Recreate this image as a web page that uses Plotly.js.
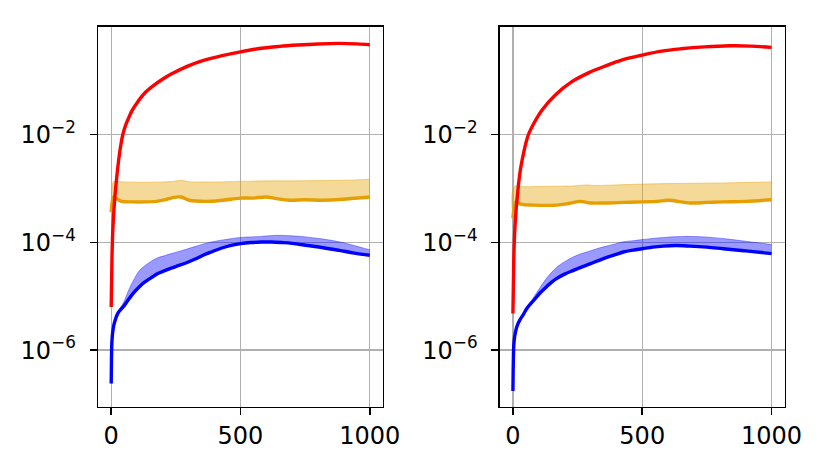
<!DOCTYPE html>
<html>
<head>
<meta charset="utf-8">
<script src="https://cdn.plot.ly/plotly-3.0.1.min.js"></script>
<style>html,body{margin:0;padding:0;background:#fff;}#chart{width:830px;height:471px;}</style>
</head>
<body>
<div id="chart"></div>
<script>
// ---------- Left panel data ----------
const L_redX = [0, 3, 6, 10, 14, 19, 25, 32, 38, 45, 54, 64, 80, 103, 130, 167, 200, 232, 296, 360, 425, 500, 579, 650, 720, 800, 880, 950, 1000];
const L_redY = [6.31e-6, 5.01e-5, 1.585e-4, 3.55e-4, 6.76e-4, 1.23e-3, 2.34e-3, 4.37e-3, 6.76e-3, 0.0100, 0.0141, 0.0186, 0.0275, 0.0407, 0.0589, 0.0832, 0.107, 0.132, 0.186, 0.240, 0.288, 0.342, 0.398, 0.432, 0.457, 0.479, 0.490, 0.481, 0.462];

const L_orgX = [0, 4, 9, 20, 40, 83, 130, 174, 210, 238, 270, 302, 367, 430, 500, 550, 599, 640, 689, 750, 818, 900, 1000];
const L_orgY = [3.63e-4, 5.62e-4, 6.92e-4, 6.46e-4, 5.75e-4, 5.62e-4, 5.62e-4, 5.75e-4, 6.17e-4, 6.76e-4, 6.92e-4, 6.03e-4, 5.75e-4, 6.03e-4, 6.61e-4, 6.61e-4, 6.92e-4, 6.46e-4, 6.03e-4, 6.17e-4, 6.03e-4, 6.31e-4, 6.92e-4];
const L_orgUpX = [0, 4, 8, 50, 100, 150, 200, 240, 270, 300, 400, 500, 550, 600, 700, 800, 900, 1000];
const L_orgUpY = [3.63e-4, 1.12e-3, 1.318e-3, 1.318e-3, 1.303e-3, 1.303e-3, 1.318e-3, 1.349e-3, 1.413e-3, 1.334e-3, 1.318e-3, 1.349e-3, 1.365e-3, 1.380e-3, 1.380e-3, 1.396e-3, 1.413e-3, 1.479e-3];

const L_bluX = [0, 1, 2.4, 5, 10, 17, 25.5, 38, 51, 70, 90, 110, 129, 155, 180, 205, 232, 265, 296, 330, 360, 392, 425, 460, 500, 540, 580, 620, 660, 700, 760, 820, 882, 940, 1000];
const L_bluY = [2.40e-7, 6.31e-7, 1.32e-6, 2.0e-6, 2.88e-6, 3.80e-6, 4.79e-6, 5.75e-6, 6.76e-6, 9.12e-6, 1.202e-5, 1.514e-5, 1.82e-5, 2.21e-5, 2.63e-5, 2.95e-5, 3.31e-5, 3.76e-5, 4.27e-5, 5.01e-5, 5.89e-5, 6.76e-5, 7.76e-5, 8.71e-5, 9.44e-5, 9.89e-5, 1.012e-4, 1.012e-4, 9.89e-5, 9.55e-5, 8.71e-5, 7.94e-5, 7.08e-5, 6.31e-5, 5.75e-5];
const L_bluUpX = [0, 10, 25.5, 38, 51, 70, 90, 110, 129, 155, 180, 205, 232, 265, 296, 330, 360, 392, 425, 460, 500, 580, 637, 700, 753, 820, 882, 940, 1000];
const L_bluUpY = [2.40e-7, 2.88e-6, 4.79e-6, 6.31e-6, 8.32e-6, 1.38e-5, 2.14e-5, 3.02e-5, 3.63e-5, 4.47e-5, 5.19e-5, 5.62e-5, 6.17e-5, 6.84e-5, 7.59e-5, 8.51e-5, 9.44e-5, 1.023e-4, 1.096e-4, 1.161e-4, 1.23e-4, 1.288e-4, 1.349e-4, 1.318e-4, 1.259e-4, 1.148e-4, 1.023e-4, 8.71e-5, 7.24e-5];

// ---------- Right panel data ----------
const R_redX = [0, 3, 6, 10, 14, 18, 22, 30, 41, 50, 60, 80, 112, 163, 228, 292, 356, 420, 500, 575, 650, 740, 838, 920, 1000];
const R_redY = [4.79e-6, 3.98e-5, 1.26e-4, 2.82e-4, 5.01e-4, 7.94e-4, 1.23e-3, 2.40e-3, 4.47e-3, 6.92e-3, 0.0100, 0.0158, 0.0282, 0.0537, 0.0955, 0.139, 0.186, 0.240, 0.297, 0.352, 0.389, 0.422, 0.442, 0.437, 0.413];

const R_orgX = [0, 5, 12, 30, 80, 170, 215, 260, 298, 360, 430, 500, 560, 600, 686, 750, 814, 900, 1000];
const R_orgY = [2.82e-4, 4.47e-4, 5.62e-4, 5.13e-4, 4.90e-4, 4.90e-4, 5.25e-4, 5.75e-4, 5.37e-4, 5.37e-4, 5.50e-4, 5.62e-4, 5.75e-4, 6.03e-4, 5.37e-4, 5.50e-4, 5.62e-4, 5.75e-4, 6.17e-4];
const R_orgUpX = [0, 5, 50, 150, 250, 280, 320, 400, 500, 600, 700, 800, 900, 1000];
const R_orgUpY = [2.82e-4, 1.072e-3, 1.072e-3, 1.096e-3, 1.122e-3, 1.161e-3, 1.135e-3, 1.161e-3, 1.202e-3, 1.230e-3, 1.245e-3, 1.259e-3, 1.288e-3, 1.318e-3];

const R_bluX = [0, 1, 2, 3.5, 6, 10, 17, 27, 40, 55, 80, 105, 131, 150, 170, 200, 234, 265, 298, 330, 363, 395, 427, 465, 500, 540, 581, 630, 684, 750, 813, 900, 1000];
const R_bluY = [1.74e-7, 4.37e-7, 8.13e-7, 1.26e-6, 1.70e-6, 2.19e-6, 2.88e-6, 3.63e-6, 4.57e-6, 6.03e-6, 8.32e-6, 1.148e-5, 1.514e-5, 1.82e-5, 2.14e-5, 2.57e-5, 3.02e-5, 3.47e-5, 3.98e-5, 4.57e-5, 5.25e-5, 5.89e-5, 6.61e-5, 7.16e-5, 7.59e-5, 8.13e-5, 8.51e-5, 8.71e-5, 8.51e-5, 8.13e-5, 7.59e-5, 6.92e-5, 6.17e-5];
const R_bluUpX = [0, 10, 27, 40, 55, 80, 105, 131, 170, 200, 234, 265, 298, 330, 363, 395, 427, 465, 500, 580, 661, 740, 813, 900, 1000];
const R_bluUpY = [1.74e-7, 2.19e-6, 3.63e-6, 4.68e-6, 6.31e-6, 9.55e-6, 1.445e-5, 2.19e-5, 3.47e-5, 4.37e-5, 5.37e-5, 6.17e-5, 6.92e-5, 7.76e-5, 8.51e-5, 9.33e-5, 1.023e-4, 1.072e-4, 1.122e-4, 1.23e-4, 1.288e-4, 1.259e-4, 1.175e-4, 1.047e-4, 9.12e-5];

// ---------- Ticks ----------
const xTickVals = [0, 500, 1000];
const xTickText = ['0', '500', '1000'];
const yTickVals = [1e-6, 1e-4, 1e-2];
const yTickText = ['10<sup>\u22126</sup>', '10<sup>\u22124</sup>', '10<sup>\u22122</sup>'];

const RED = '#ff0000', ORANGE = '#e69f00', BLUE = '#0000ff';
const ORANGE_FILL = 'rgba(230,159,0,0.4)', BLUE_FILL = 'rgba(0,0,255,0.4)';

// upper edge of a shaded band (thin edge line only)
function upper(x, y, edge, xa, ya) {
  return {
    x: x, y: y, xaxis: xa, yaxis: ya, type: 'scatter', mode: 'lines',
    line: {color: edge, width: 0.8, shape: 'spline', smoothing: 1},
    hoverinfo: 'skip', showlegend: false
  };
}
// main line; optionally fills up to the previous (upper-edge) trace
function line(x, y, color, xa, ya, fill) {
  const t = {
    x: x, y: y, xaxis: xa, yaxis: ya, type: 'scatter', mode: 'lines',
    line: {color: color, width: 3.4, shape: 'spline', smoothing: 1},
    showlegend: false
  };
  if (fill) { t.fill = 'tonexty'; t.fillcolor = fill; }
  return t;
}

const traces = [
  upper(L_bluUpX, L_bluUpY, 'rgba(0,0,255,0.45)', 'x', 'y'),
  line(L_bluX, L_bluY, BLUE, 'x', 'y', BLUE_FILL),
  upper(L_orgUpX, L_orgUpY, 'rgba(230,159,0,0.55)', 'x', 'y'),
  line(L_orgX, L_orgY, ORANGE, 'x', 'y', ORANGE_FILL),
  line(L_redX, L_redY, RED, 'x', 'y'),
  upper(R_bluUpX, R_bluUpY, 'rgba(0,0,255,0.45)', 'x2', 'y2'),
  line(R_bluX, R_bluY, BLUE, 'x2', 'y2', BLUE_FILL),
  upper(R_orgUpX, R_orgUpY, 'rgba(230,159,0,0.55)', 'x2', 'y2'),
  line(R_orgX, R_orgY, ORANGE, 'x2', 'y2', ORANGE_FILL),
  line(R_redX, R_redY, RED, 'x2', 'y2')
];

const font = {family: 'DejaVu Sans', size: 24, color: '#000'};
function xaxis(domain, anchor) {
  return {
    domain: domain, anchor: anchor, range: [-50, 1050],
    tickmode: 'array', tickvals: xTickVals, ticktext: xTickText,
    ticks: 'outside', ticklen: 7, tickwidth: 1.6, tickcolor: '#000',
    showgrid: true, gridcolor: '#b0b0b0', gridwidth: 1.3, zeroline: false,
    showline: true, linecolor: '#000', linewidth: 1.6, mirror: true,
    tickfont: font, fixedrange: true
  };
}
function yaxis(anchor) {
  return {
    domain: [0.1365, 0.9433], anchor: anchor, type: 'log', range: [-7.05, 0],
    tickmode: 'array', tickvals: yTickVals, ticktext: yTickText,
    ticks: 'outside', ticklen: 7, tickwidth: 1.6, tickcolor: '#000',
    ticklabelstandoff: 9,
    showgrid: true, gridcolor: '#b0b0b0', gridwidth: 1.3, zeroline: false,
    showline: true, linecolor: '#000', linewidth: 1.6, mirror: true,
    tickfont: font, fixedrange: true
  };
}

const layout = {
  width: 830, height: 471,
  margin: {l: 0, r: 0, t: 0, b: 0},
  paper_bgcolor: '#fff', plot_bgcolor: '#fff',
  showlegend: false, font: font,
  xaxis: xaxis([0.1184, 0.4611], 'y'),
  yaxis: yaxis('x'),
  xaxis2: xaxis([0.6024, 0.9452], 'y2'),
  yaxis2: yaxis('x2')
};

Plotly.newPlot('chart', traces, layout, {displayModeBar: false, staticPlot: true});
</script>
</body>
</html>
